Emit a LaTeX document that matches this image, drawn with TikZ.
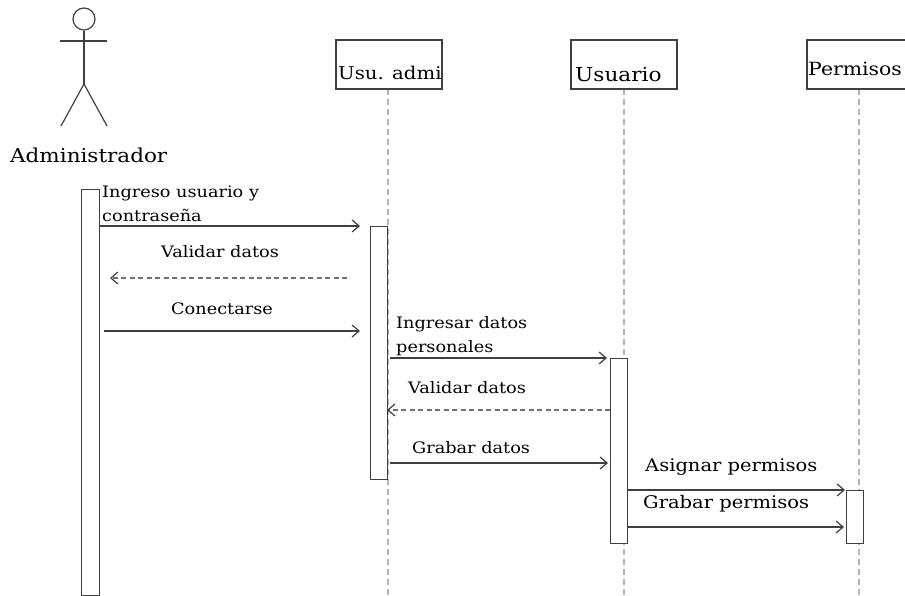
\documentclass[tikz,border=0pt]{standalone}
\usepackage{fontspec}
\setmainfont{DejaVu Serif}[FakeStretch=1.12]
\usetikzlibrary{arrows.meta}
\definecolor{linegray}{HTML}{404040}
\definecolor{dashgray}{HTML}{707070}
\definecolor{lifegray}{HTML}{B4B4B4}
\tikzset{
  lbl/.style={inner sep=0pt, anchor=base west, font=\fontsize{15.8}{18}\selectfont},
  biglbl/.style={inner sep=0pt, anchor=base west, font=\fontsize{17.4}{20}\selectfont},
  boxlbl/.style={inner sep=0pt, anchor=base west},
  objbox/.style={draw=linegray, line width=1.3pt, fill=white},
  actbar/.style={draw=linegray, line width=1.3pt, fill=white},
  lifeline/.style={draw=lifegray, line width=1.2pt, dash pattern=on 6pt off 4pt},
  msg/.style={draw=linegray, line width=1.1pt, -{Straight Barb[length=7pt,width=12pt,line width=1.2pt]}},
  ret/.style={draw=dashgray, line width=1.1pt, dash pattern=on 5pt off 3.5pt, -{Straight Barb[length=7pt,width=12pt,line width=1.2pt,color=linegray]}},
  stick/.style={draw=linegray, line width=1.2pt}
}
\begin{document}
\begin{tikzpicture}[x=1pt,y=-1pt]
\clip (0,0) rectangle (905,596);
\fill[white] (0,0) rectangle (905,596);
% actor
\node[stick, circle, minimum size=22pt, inner sep=0pt] (head) at (84,19) {};
\coordinate (armL) at (60,41);
\coordinate (armR) at (107,41);
\coordinate (hip) at (84,84);
\coordinate (legL) at (61,126);
\coordinate (legR) at (107,126);
\draw[stick] (armL) -- (armR);
\draw[stick] (head.south) -- (hip);
\draw[stick] (legL) -- (hip) -- (legR);
\node[inner sep=0pt, anchor=base west, font=\fontsize{19.2}{22}\selectfont] (admin) at (10,163) {Administrador};
% lifelines
\coordinate (l1top) at (388,89);
\coordinate (l1bot) at (388,596);
\coordinate (l2top) at (624,89);
\coordinate (l2bot) at (624,596);
\coordinate (l3top) at (859,89);
\coordinate (l3bot) at (859,596);
\draw[lifeline] (l1top) -- (l1bot);
\draw[lifeline] (l2top) -- (l2bot);
\draw[lifeline] (l3top) -- (l3bot);
% object boxes
\draw[objbox] (336,40) rectangle (442,89);
\begin{scope}
\clip (336,40) rectangle (442,89);
\node[boxlbl, font=\fontsize{17.6}{20}\selectfont] (usuadmi) at (338,80) {Usu. admi};
\end{scope}
\draw[objbox] (571,40) rectangle (677,89);
\node[boxlbl, font=\fontsize{19.3}{22}\selectfont] (usuario) at (575,82) {Usuario};
\draw[objbox] (807,40) rectangle (960,89);
\node[boxlbl, font=\fontsize{18.2}{21}\selectfont] (permisos) at (808,76) {Permisos};
% activation bars
\node[actbar, anchor=north west, minimum width=18pt, minimum height=406pt, inner sep=0pt] (bar0) at (81,189) {};
\node[actbar, anchor=north west, minimum width=17pt, minimum height=253pt, inner sep=0pt] (bar1) at (370,226) {};
\node[actbar, anchor=north west, minimum width=17pt, minimum height=185pt, inner sep=0pt] (bar2) at (610,358) {};
\node[actbar, anchor=north west, minimum width=17pt, minimum height=53pt, inner sep=0pt] (bar3) at (846,490) {};
% messages
\coordinate (m1s) at (99,226);  \coordinate (m1e) at (360,226);
\coordinate (m2s) at (347,278); \coordinate (m2e) at (110,278);
\coordinate (m3s) at (104,331); \coordinate (m3e) at (360,331);
\coordinate (m4s) at (390,358); \coordinate (m4e) at (607,358);
\coordinate (m5s) at (610,410); \coordinate (m5e) at (387,410);
\coordinate (m6s) at (390,463); \coordinate (m6e) at (608,463);
\coordinate (m7s) at (627,490); \coordinate (m7e) at (845,490);
\coordinate (m8s) at (627,527); \coordinate (m8e) at (844,527);
\draw[msg] (m1s) -- (m1e);
\draw[ret] (m2s) -- (m2e);
\draw[msg] (m3s) -- (m3e);
\draw[msg] (m4s) -- (m4e);
\draw[ret] (m5s) -- (m5e);
\draw[msg] (m6s) -- (m6e);
\draw[msg] (m7s) -- (m7e);
\draw[msg] (m8s) -- (m8e);
% labels
\node[lbl] (t1a) at (102,198) {Ingreso usuario y};
\node[lbl] (t1b) at (102,222) {contraseña};
\node[lbl] (t2) at (161,258) {Validar datos};
\node[lbl] (t3) at (171,314) {Conectarse};
\node[lbl] (t4a) at (396,328) {Ingresar datos};
\node[lbl] (t4b) at (396,352) {personales};
\node[lbl] (t5) at (408,393) {Validar datos};
\node[lbl] (t6) at (412,453) {Grabar datos};
\node[biglbl] (t7) at (645,471) {Asignar permisos};
\node[biglbl] (t8) at (643,508) {Grabar permisos};
\end{tikzpicture}
\end{document}
